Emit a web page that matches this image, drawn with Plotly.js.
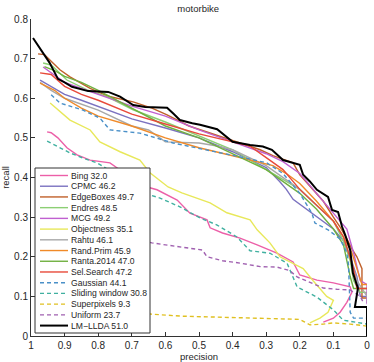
<!DOCTYPE html>
<html>
<head>
<meta charset="utf-8">
<script src="https://cdn.plot.ly/plotly-3.0.1.min.js"></script>
<style>
  html, body { margin: 0; padding: 0; background: #fff; }
  #chart { width: 374px; height: 362px; }
</style>
</head>
<body>
<div id="chart"></div>
<script>
// precision / recall pairs
const bingP = [0.952, 0.94, 0.92, 0.893, 0.863, 0.824, 0.765, 0.72, 0.676, 0.625, 0.565, 0.527, 0.476, 0.467, 0.43, 0.378, 0.327, 0.268, 0.22, 0.2, 0.149, 0.1, 0.05, 0.045, 0.06, 0.08, 0.1, 0.13];
const bingR = [0.515, 0.513, 0.5, 0.475, 0.457, 0.444, 0.437, 0.41, 0.381, 0.369, 0.343, 0.31, 0.293, 0.273, 0.26, 0.247, 0.23, 0.209, 0.187, 0.154, 0.141, 0.134, 0.124, 0.11, 0.085, 0.06, 0.045, 0.035];

const cpmcP = [0.973, 0.94, 0.9, 0.85, 0.8, 0.7, 0.6, 0.5, 0.4, 0.3, 0.26, 0.24, 0.22, 0.18, 0.15, 0.1, 0.07, 0.05, 0.03, 0.02, 0.0];
const cpmcR = [0.646, 0.63, 0.61, 0.595, 0.58, 0.548, 0.525, 0.5, 0.465, 0.425, 0.39, 0.37, 0.345, 0.32, 0.3, 0.27, 0.24, 0.2, 0.15, 0.1, 0.1];

const edgeP = [0.979, 0.96, 0.93, 0.914, 0.884, 0.824, 0.77, 0.696, 0.64, 0.595, 0.53, 0.476, 0.42, 0.378, 0.318, 0.28, 0.22, 0.2, 0.16, 0.13, 0.1, 0.08, 0.06, 0.045, 0.03, 0.015, 0.015, 0.0];
const edgeR = [0.712, 0.71, 0.685, 0.672, 0.654, 0.625, 0.605, 0.591, 0.575, 0.558, 0.53, 0.515, 0.5, 0.487, 0.47, 0.455, 0.437, 0.407, 0.37, 0.34, 0.3, 0.275, 0.245, 0.22, 0.2, 0.17, 0.096, 0.096];

const endresP = [0.964, 0.94, 0.893, 0.833, 0.774, 0.696, 0.6, 0.5, 0.4, 0.3, 0.2, 0.15, 0.1, 0.07, 0.05, 0.04, 0.02, 0.0, 0.0];
const endresR = [0.689, 0.684, 0.646, 0.621, 0.604, 0.571, 0.54, 0.505, 0.47, 0.42, 0.37, 0.33, 0.29, 0.24, 0.19, 0.14, 0.11, 0.11, 0.083];

const mcgP = [0.964, 0.94, 0.9, 0.8, 0.7, 0.6, 0.5, 0.4, 0.3, 0.25, 0.2, 0.15, 0.1, 0.08, 0.06, 0.04, 0.02, 0.0, 0.0];
const mcgR = [0.679, 0.665, 0.64, 0.61, 0.58, 0.555, 0.52, 0.49, 0.46, 0.44, 0.41, 0.36, 0.31, 0.29, 0.27, 0.21, 0.14, 0.13, 0.08];

const objP = [0.943, 0.91, 0.884, 0.824, 0.795, 0.735, 0.676, 0.646, 0.592, 0.551, 0.467, 0.417, 0.348, 0.327, 0.289, 0.259, 0.19, 0.161, 0.14, 0.12, 0.1, 0.116, 0.14, 0.17];
const objR = [0.588, 0.565, 0.545, 0.52, 0.49, 0.465, 0.444, 0.412, 0.376, 0.361, 0.336, 0.311, 0.293, 0.268, 0.235, 0.2, 0.17, 0.14, 0.12, 0.1, 0.09, 0.06, 0.045, 0.033];

const rahtuP = [0.973, 0.94, 0.9, 0.8, 0.7, 0.65, 0.6, 0.5, 0.45, 0.4, 0.3, 0.2, 0.15, 0.1, 0.07, 0.05, 0.03, 0.0];
const rahtuR = [0.64, 0.62, 0.6, 0.57, 0.53, 0.52, 0.49, 0.487, 0.48, 0.47, 0.43, 0.37, 0.33, 0.29, 0.25, 0.2, 0.14, 0.1];

const randP = [0.973, 0.93, 0.9, 0.85, 0.8, 0.7, 0.6, 0.5, 0.4, 0.33, 0.28, 0.24, 0.2, 0.15, 0.1, 0.07, 0.045, 0.03, 0.015, 0.0];
const randR = [0.638, 0.62, 0.6, 0.575, 0.555, 0.53, 0.5, 0.475, 0.455, 0.44, 0.43, 0.41, 0.385, 0.34, 0.29, 0.25, 0.21, 0.17, 0.13, 0.13];

const rantaP = [0.96, 0.93, 0.9, 0.85, 0.8, 0.7, 0.6, 0.5, 0.4, 0.3, 0.2, 0.15, 0.1, 0.07, 0.05, 0.04, 0.0];
const rantaR = [0.68, 0.67, 0.655, 0.64, 0.62, 0.575, 0.53, 0.5, 0.46, 0.42, 0.36, 0.32, 0.27, 0.23, 0.15, 0.12, 0.12];

const selP = [0.973, 0.94, 0.9, 0.85, 0.8, 0.7, 0.6, 0.5, 0.4, 0.35, 0.3, 0.25, 0.2, 0.15, 0.1, 0.07, 0.05, 0.04, 0.03, 0.0];
const selR = [0.664, 0.66, 0.63, 0.61, 0.595, 0.56, 0.535, 0.51, 0.49, 0.48, 0.45, 0.42, 0.37, 0.33, 0.29, 0.25, 0.2, 0.17, 0.12, 0.12];

const gaussP = [0.94, 0.914, 0.845, 0.795, 0.765, 0.676, 0.577, 0.476, 0.378, 0.298, 0.25, 0.2, 0.164, 0.155, 0.116, 0.08, 0.06, 0.055, 0.05, 0.04, 0.0];
const gaussR = [0.609, 0.588, 0.57, 0.55, 0.52, 0.512, 0.487, 0.47, 0.452, 0.437, 0.41, 0.36, 0.31, 0.285, 0.268, 0.245, 0.21, 0.18, 0.06, 0.045, 0.045];

const slideP = [0.952, 0.92, 0.884, 0.845, 0.804, 0.75, 0.72, 0.676, 0.616, 0.557, 0.497, 0.446, 0.387, 0.348, 0.289, 0.238, 0.208, 0.149, 0.1, 0.071, 0.02, 0.0];
const slideR = [0.492, 0.477, 0.462, 0.449, 0.437, 0.41, 0.39, 0.364, 0.348, 0.326, 0.298, 0.28, 0.25, 0.215, 0.209, 0.184, 0.124, 0.098, 0.066, 0.04, 0.033, 0.03];

const superP = [0.92, 0.8, 0.7, 0.64, 0.55, 0.446, 0.35, 0.25, 0.2, 0.185, 0.17, 0.13, 0.1, 0.05, 0.0];
const superR = [0.09, 0.075, 0.062, 0.055, 0.05, 0.048, 0.045, 0.043, 0.042, 0.035, 0.028, 0.03, 0.033, 0.03, 0.025];

const uniP = [0.95, 0.85, 0.75, 0.64, 0.6, 0.527, 0.49, 0.476, 0.43, 0.378, 0.318, 0.268, 0.23, 0.208, 0.17, 0.13, 0.09, 0.05, 0.02, 0.01];
const uniR = [0.3, 0.28, 0.255, 0.235, 0.23, 0.222, 0.217, 0.2, 0.19, 0.184, 0.175, 0.174, 0.165, 0.149, 0.135, 0.121, 0.118, 0.116, 0.1, 0.083];

const lldaP = [0.994, 0.98, 0.964, 0.945, 0.929, 0.92, 0.9, 0.878, 0.83, 0.795, 0.77, 0.735, 0.696, 0.66, 0.616, 0.595, 0.575, 0.557, 0.52, 0.497, 0.446, 0.4, 0.348, 0.31, 0.283, 0.25, 0.2, 0.19, 0.17, 0.149, 0.116, 0.104, 0.086, 0.074, 0.065, 0.05, 0.042, 0.027, 0.036, 0.02, 0.0, 0.0];
const lldaR = [0.752, 0.735, 0.715, 0.69, 0.664, 0.649, 0.64, 0.629, 0.618, 0.617, 0.616, 0.604, 0.583, 0.578, 0.576, 0.576, 0.56, 0.545, 0.537, 0.533, 0.522, 0.49, 0.482, 0.478, 0.47, 0.444, 0.432, 0.407, 0.39, 0.369, 0.351, 0.318, 0.313, 0.275, 0.255, 0.217, 0.159, 0.121, 0.073, 0.073, 0.073, 0.0];

const series = [
    ['Bing 32.0', bingP, bingR, '#ec5fa8', 'solid'],
    ['CPMC 46.2', cpmcP, cpmcR, '#7b72c0', 'solid'],
    ['EdgeBoxes 49.7', edgeP, edgeR, '#c0602a', 'solid'],
    ['Endres 48.5', endresP, endresR, '#8ccf74', 'solid'],
    ['MCG 49.2', mcgP, mcgR, '#c060d0', 'solid'],
    ['Objectness 35.1', objP, objR, '#e8e85a', 'solid'],
    ['Rahtu 46.1', rahtuP, rahtuR, '#a8a8a8', 'solid'],
    ['Rand.Prim 45.9', randP, randR, '#f08a28', 'solid'],
    ['Ranta.2014 47.0', rantaP, rantaR, '#70b040', 'solid'],
    ['Sel.Search 47.2', selP, selR, '#e84a3a', 'solid'],
    ['Gaussian 44.1', gaussP, gaussR, '#4a90c8', 'dash'],
    ['Sliding window 30.8', slideP, slideR, '#40b0a0', 'dash'],
    ['Superpixels 9.3', superP, superR, '#e0c020', 'dash'],
    ['Uniform 23.7', uniP, uniR, '#a060b0', 'dash'],
    ['LM\u2212LLDA 51.0', lldaP, lldaR, '#000000', 'solid'],
];

const traces = series.map(([name, x, y, color, dash]) => ({
    x: x,
    y: y,
    name: name,
    type: 'scatter',
    mode: 'lines',
    line: { color: color, width: name.startsWith('LM') ? 2 : 1.4, dash: dash === 'dash' ? '4px,3px' : 'solid' },
    showlegend: false,
}));

// hand-built legend box: Plotly's own legend rows are too tall for this size
const plotW = 336, plotH = 317, plotL = 31, plotB = 336;
const px = (v) => (v - plotL) / plotW;
const py = (v) => (plotB - v) / plotH;

const shapes = [{
    type: 'rect', xref: 'paper', yref: 'paper',
    x0: px(35), x1: px(150), y0: py(333), y1: py(168),
    fillcolor: '#ffffff', line: { color: '#333', width: 1 }, layer: 'above',
}];
const annotations = [];
series.forEach(([name, , , color, dash], i) => {
    const rowY = 175.5 + i * 10.72;
    shapes.push({
        type: 'line', xref: 'paper', yref: 'paper', layer: 'above',
        x0: px(40), x1: px(68), y0: py(rowY), y1: py(rowY),
        line: { color: color, width: name.startsWith('LM') ? 2 : 1.4, dash: dash === 'dash' ? '4px,3px' : 'solid' },
    });
    annotations.push({
        xref: 'paper', yref: 'paper', x: px(69), y: py(rowY),
        xanchor: 'left', yanchor: 'middle', showarrow: false,
        text: name, font: { size: 8.6, color: '#262626' },
    });
});

Plotly.newPlot('chart', traces, {
    width: 374,
    height: 362,
    margin: { l: 31, r: 7, t: 19, b: 26 },
    font: { family: 'Liberation Sans, Arial, sans-serif', size: 10, color: '#262626' },
    title: { text: 'motorbike', font: { size: 9.5 }, x: 0.53, y: 0.985, yanchor: 'top' },
    xaxis: {
        range: [1, 0],
        dtick: 0.1,
        ticks: 'inside',
        ticklen: 4,
        tickcolor: '#333',
        showline: true,
        linecolor: '#333',
        showgrid: false,
        zeroline: false,
        title: { text: 'precision', font: { size: 9.5 }, standoff: 0 },
    },
    yaxis: {
        range: [0, 0.8],
        dtick: 0.1,
        ticks: 'inside',
        ticklen: 4,
        tickcolor: '#333',
        showline: true,
        linecolor: '#333',
        showgrid: false,
        zeroline: false,
        title: { text: 'recall', font: { size: 9.5 }, standoff: 4 },
    },
    shapes: shapes,
    annotations: annotations,
    showlegend: false,
    paper_bgcolor: '#ffffff',
    plot_bgcolor: '#ffffff',
}, { displayModeBar: false, responsive: false });
</script>
</body>
</html>
